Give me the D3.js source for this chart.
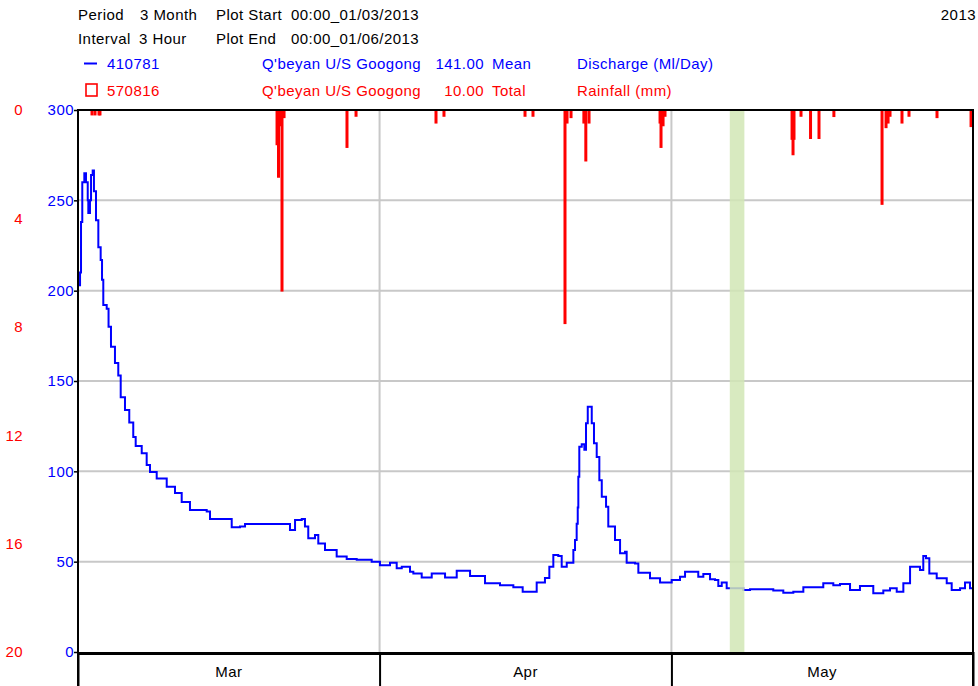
<!DOCTYPE html>
<html>
<head>
<meta charset="utf-8">
<script src="https://cdn.jsdelivr.net/npm/d3@7"></script>
<style>
  body { margin: 0; background: #fff; }
  svg { display: block; font-family: Arial, "Liberation Sans", sans-serif; font-size: 15px; letter-spacing: 0.45px; }
</style>
</head>
<body>
<div id="chart"></div>
<script>
// days since 00:00 01/03/2013
const flowDays = [0, 0.21, 0.31, 0.44, 0.65, 0.82, 1.00, 1.06, 1.23, 1.34, 1.51, 1.64, 1.85, 2.09, 2.33, 2.47, 2.60, 2.95,
  3.14, 3.39, 3.80, 4.14, 4.39, 4.83, 5.27, 5.68, 5.93, 6.55, 7.06, 7.40, 8.09, 9.12, 9.97, 10.66, 11.51, 13.23, 13.57,
  15.29, 15.80, 16.65, 17.17, 19.74, 21.45, 21.79, 22.31, 23.00, 23.33, 23.67, 24.36, 24.70, 25.39, 26.59, 27.62, 28.65,
  30.19, 31.04, 32.07, 32.76, 33.28, 34.13, 34.47, 35.33, 36.36, 37.73, 38.93, 40.30, 41.84, 43.38, 44.75, 45.71, 47.15,
  48.00, 48.45, 48.86, 49.37, 49.72, 50.24, 50.75, 50.92, 51.09, 51.26, 51.37, 51.43, 51.53, 51.78, 52.05, 52.22, 52.40,
  52.63, 52.81, 53.04, 53.32, 53.59, 53.84, 54.28, 54.51, 55.20, 55.72, 56.23, 56.40, 57.26, 57.60, 58.46, 58.80, 59.83,
  61.03, 61.88, 62.40, 63.25, 63.76, 64.28, 64.97, 65.48, 65.82, 66.17, 66.68, 68.39, 69.08, 70.11, 71.47, 72.50, 73.53,
  74.56, 75.59, 76.61, 77.64, 78.33, 79.36, 80.38, 81.75, 82.78, 83.47, 84.16, 84.84, 85.53, 86.22, 86.55, 86.89, 87.17,
  87.51, 88.27, 89.30, 89.81, 90.67, 91.18, 91.69, 92.00];
const flowValues = [203, 210, 238, 260, 265, 260, 250, 243, 250, 264, 266.5, 255, 239, 224, 217, 206, 192, 190,
  180, 169, 160, 153, 141, 134, 127, 119, 114, 110, 103.5, 99.6, 96, 91.5, 88, 83, 78.6, 77.7, 73.6,
  73.6, 69, 69.5, 70.8, 70.8, 70.8, 67.5, 73, 73.6, 69.4, 63, 64.8, 60, 56.5, 52.8, 51.5, 51,
  50, 48, 49.4, 46.3, 47.2, 44.4, 43.5, 41.3, 43.5, 41.3, 45, 42, 38, 37, 35.8, 33.4, 38.4,
  41, 47.2, 53.7, 53.1, 47.2, 49.4, 49.4, 56.5, 62, 71, 80, 97, 113.6, 115, 112, 126.6, 135.8,
  135.8, 126.6, 115.5, 108, 95, 86, 80.4, 69.4, 62, 54.6, 55.5, 49.4, 49, 43.9, 43.9, 40.8, 38.4,
  39.9, 41.7, 44.4, 44.4, 41.7, 43.2, 40.2, 39.9, 36.5, 38.4, 35.3, 34.3, 34.7, 34.7, 34, 32.8, 33.4,
  35.8, 35.8, 38, 37, 37.6, 34.3, 36.5, 32.5, 34, 35.3, 33.4, 38, 47.2, 47.2, 45.4, 53.1, 51.9,
  43.5, 40.8, 38, 34.3, 35.3, 38.4, 35.3, 35.3];

const rainDays = [1.44, 1.75, 2.16, 2.26, 20.46, 20.61, 20.77, 20.97, 21.18, 27.65, 28.58, 36.80, 37.62, 45.95, 46.77,
  50.06, 50.27, 50.68, 52.00, 52.20, 52.53, 59.83, 59.93, 60.14, 60.34, 73.40, 73.50, 73.60, 74.32, 75.30, 76.17,
  77.70, 82.65, 83.06, 83.27, 83.47, 84.70, 85.42, 88.30, 91.80];
const rainValues = [0.2, 0.2, 0.2, 0.2, 1.3, 2.5, 0.6, 6.7, 0.3, 1.4, 0.25, 0.5, 0.25, 0.25, 0.25,
  7.9, 0.5, 0.3, 0.5, 1.9, 0.5, 0.5, 1.4, 0.6, 0.25, 1.1, 1.67, 1.1, 0.25, 1.07, 1.07,
  0.26, 3.5, 0.67, 0.5, 0.25, 0.5, 0.25, 0.3, 0.63];

const monthNames = ['Mar', 'Apr', 'May'];
const monthStarts = ['2013-03-01', '2013-04-01', '2013-05-01', '2013-06-01'];
const flowTicks = [0, 50, 100, 150, 200, 250, 300];
const rainTicks = [0, 4, 8, 12, 16, 20];
const highlightPeriod = ['2013-05-07T00:00Z', '2013-05-08T12:00Z'];

(function() {
    const width = 978,
          height = 686;

    const plotLeft = 78, plotRight = 973, plotTop = 110, plotBottom = 652;

    const start = Date.UTC(2013, 2, 1);
    const toDate = d => new Date(start + d * 864e5);

    const xScale = d3.scaleUtc()
        .domain([new Date(monthStarts[0]), new Date(monthStarts[3])])
        .range([plotLeft, plotRight]);

    const yFlow = d3.scaleLinear()
        .domain([0, 300])
        .range([plotBottom, plotTop]);

    const yRain = d3.scaleLinear()
        .domain([0, 20])
        .range([plotTop, plotBottom]);

    const svg = d3.select('#chart')
        .append('svg')
        .attr('width', width)
        .attr('height', height);

    // header
    const header = [
      [78, 19.5, 'Period', '#000'], [140, 19.5, '3 Month', '#000'], [216, 19.5, 'Plot Start', '#000'], [291, 19.5, '00:00_01/03/2013', '#000'],
      [78, 43.5, 'Interval', '#000'], [139, 43.5, '3 Hour', '#000'], [216, 43.5, 'Plot End', '#000'], [291, 43.5, '00:00_01/06/2013', '#000'],
      [107, 69, '410781', '#0000ff'], [262, 69, "Q'beyan U/S Googong", '#0000ff'], [492, 69, 'Mean', '#0000ff'], [577, 69, 'Discharge (Ml/Day)', '#0000ff'],
      [107, 96, '570816', '#ff0000'], [262, 96, "Q'beyan U/S Googong", '#ff0000'], [492, 96, 'Total', '#ff0000'], [577, 96, 'Rainfall (mm)', '#ff0000']
    ];
    svg.selectAll('text.head')
        .data(header)
        .enter().append('text')
        .attr('class', 'head')
        .attr('x', d => d[0])
        .attr('y', d => d[1])
        .attr('fill', d => d[3])
        .text(d => d[2]);

    svg.append('text').attr('x', 484).attr('y', 69).attr('text-anchor', 'end').attr('fill', '#0000ff').text('141.00');
    svg.append('text').attr('x', 484).attr('y', 96).attr('text-anchor', 'end').attr('fill', '#ff0000').text('10.00');
    svg.append('text').attr('x', 976).attr('y', 19.5).attr('text-anchor', 'end').text('2013');

    svg.append('line').attr('x1', 84).attr('x2', 97).attr('y1', 63.5).attr('y2', 63.5)
        .attr('stroke', '#0000ff').attr('stroke-width', 2);
    svg.append('rect').attr('x', 86).attr('y', 84).attr('width', 11).attr('height', 12)
        .attr('fill', 'none').attr('stroke', '#ff0000').attr('stroke-width', 1.6);

    // grid
    svg.selectAll('line.hgrid')
        .data(flowTicks.filter(t => t > 0 && t < 300))
        .enter().append('line')
        .attr('x1', plotLeft).attr('x2', plotRight)
        .attr('y1', d => yFlow(d)).attr('y2', d => yFlow(d))
        .attr('stroke', '#c8c8c8').attr('stroke-width', 2);

    svg.selectAll('line.vgrid')
        .data(monthStarts.slice(1, 3))
        .enter().append('line')
        .attr('x1', d => xScale(new Date(d))).attr('x2', d => xScale(new Date(d)))
        .attr('y1', plotTop).attr('y2', plotBottom)
        .attr('stroke', '#c8c8c8').attr('stroke-width', 2);

    // rainfall, hanging from the top
    svg.selectAll('rect.rain')
        .data(rainDays)
        .enter().append('rect')
        .attr('x', d => xScale(toDate(d)) - 1.5)
        .attr('y', plotTop)
        .attr('width', 3)
        .attr('height', (d, i) => yRain(rainValues[i]) - plotTop)
        .attr('fill', '#ff0000');

    // discharge
    const line = d3.line()
        .curve(d3.curveStepAfter)
        .x(d => xScale(toDate(d)))
        .y((d, i) => yFlow(flowValues[i]));

    svg.append('path')
        .datum(flowDays)
        .attr('d', line)
        .attr('fill', 'none')
        .attr('stroke', '#0000ff')
        .attr('stroke-width', 2);

    svg.append('rect')
        .attr('x', xScale(new Date(highlightPeriod[0])))
        .attr('width', xScale(new Date(highlightPeriod[1])) - xScale(new Date(highlightPeriod[0])))
        .attr('y', plotTop + 1)
        .attr('height', plotBottom - plotTop)
        .attr('fill', '#d1e6b5')
        .attr('opacity', 0.85);

    // frame
    svg.append('line').attr('x1', plotLeft).attr('x2', plotRight + 1).attr('y1', plotTop).attr('y2', plotTop)
        .attr('stroke', '#000').attr('stroke-width', 2);
    svg.append('line').attr('x1', plotLeft).attr('x2', plotRight + 1).attr('y1', plotBottom + 1.5).attr('y2', plotBottom + 1.5)
        .attr('stroke', '#000').attr('stroke-width', 3);

    // axes
    const flowAxis = d3.axisLeft(yFlow)
        .tickValues(flowTicks)
        .tickSize(4)
        .tickPadding(0);

    svg.append('g')
        .attr('transform', `translate(${plotLeft},0)`)
        .call(flowAxis)
        .call(g => g.select('.domain').remove())
        .call(g => g.selectAll('line').attr('stroke', '#000').attr('stroke-width', 1.5))
        .call(g => g.selectAll('text').attr('fill', '#0000ff').attr('font-size', 15)
            .attr('font-family', 'Arial, "Liberation Sans", sans-serif'));

    const rainAxis = d3.axisLeft(yRain)
        .tickValues(rainTicks)
        .tickSize(0)
        .tickPadding(0);

    svg.append('g')
        .attr('transform', 'translate(23,0)')
        .call(rainAxis)
        .call(g => g.select('.domain').remove())
        .call(g => g.selectAll('text').attr('fill', '#ff0000').attr('font-size', 15)
            .attr('font-family', 'Arial, "Liberation Sans", sans-serif'));

    const timeAxis = d3.axisBottom(xScale)
        .tickValues(monthStarts.map(d => new Date(d)))
        .tickSize(height - plotBottom)
        .tickFormat('');

    svg.append('g')
        .attr('transform', `translate(0,${plotBottom})`)
        .call(timeAxis)
        .call(g => g.select('.domain').remove())
        .call(g => g.selectAll('line').attr('stroke', '#000').attr('stroke-width', 2));

    svg.selectAll('text.month')
        .data(monthNames)
        .enter().append('text')
        .attr('x', (d, i) => (xScale(new Date(monthStarts[i])) + xScale(new Date(monthStarts[i + 1]))) / 2)
        .attr('y', 677)
        .attr('text-anchor', 'middle')
        .text(d => d);

    svg.append('line').attr('x1', plotLeft).attr('x2', plotLeft).attr('y1', plotTop - 1).attr('y2', height)
        .attr('stroke', '#000').attr('stroke-width', 2);
    svg.append('line').attr('x1', plotRight).attr('x2', plotRight).attr('y1', plotTop - 1).attr('y2', height)
        .attr('stroke', '#000').attr('stroke-width', 2);
})();
</script>
</body>
</html>
